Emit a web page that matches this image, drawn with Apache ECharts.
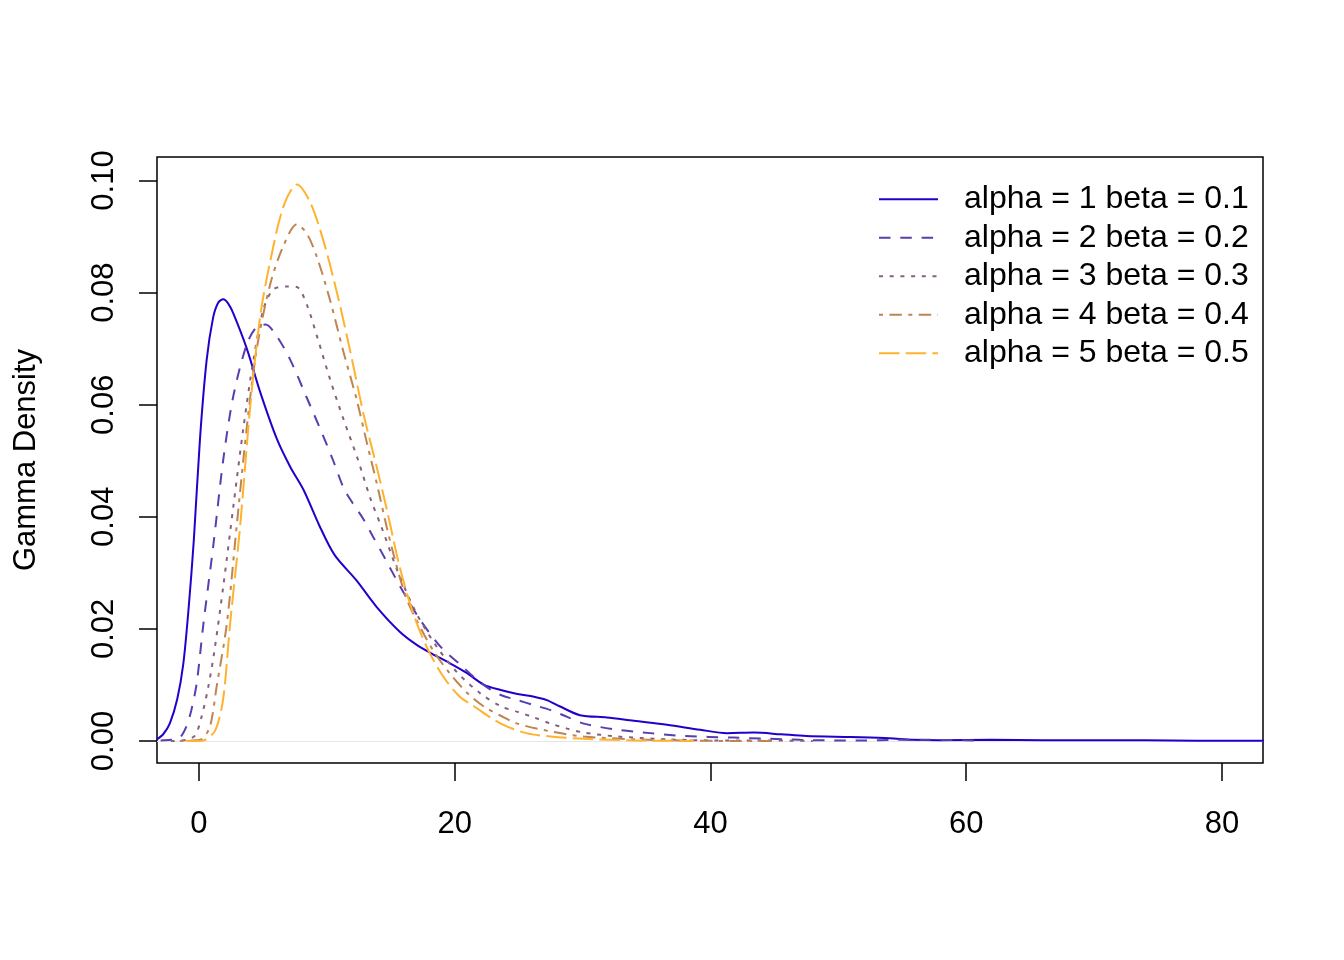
<!DOCTYPE html>
<html>
<head>
<meta charset="utf-8">
<script src="https://cdn.jsdelivr.net/npm/echarts@6/dist/echarts.min.js"></script>
<style>
html,body{margin:0;padding:0;background:#fff;}
#chart{width:1344px;height:960px;}
</style>
</head>
<body>
<div id="chart"></div>
<script>
// ---- data ----
const seriesNames = [
  'alpha = 1 beta = 0.1',
  'alpha = 2 beta = 0.2',
  'alpha = 3 beta = 0.3',
  'alpha = 4 beta = 0.4',
  'alpha = 5 beta = 0.5'
];
const xTicks = [0, 20, 40, 60, 80];
const yTicks = [0, 0.02, 0.04, 0.06, 0.08, 0.10];

const s1 = [[-3.3,0.0003],[-2.8,0.0012],[-2.27,0.0032],[-1.7,0.0075],[-1.23,0.0137],[-0.8,0.024],[-0.4,0.036],[0.08,0.054],[0.6,0.068],[1.1,0.0755],[1.5,0.0782],[1.9,0.0788],[2.3,0.078],[2.7,0.0762],[3.74,0.070],[4.78,0.0623],[6.09,0.0539],[7.14,0.0489],[8.2,0.0447],[9.4,0.0385],[10.6,0.0332],[12.3,0.0287],[13.9,0.0239],[15.7,0.0195],[17.0,0.0172],[18.2,0.0156],[19.6,0.0139],[20.9,0.0122],[22.3,0.0100],[23.6,0.0091],[24.9,0.0084],[26.2,0.0079],[27.2,0.0073],[28.2,0.0062],[29.8,0.0046],[31.9,0.0042],[34.0,0.0036],[36.6,0.0029],[39.2,0.0020],[41.3,0.0014],[43.4,0.0015],[45.5,0.0012],[47.5,0.0009],[51.0,0.0007],[54.0,0.0005],[55.8,0.0002],[58.0,0.00015],[62.0,0.0002],[66.0,0.00015],[70.0,0.00015],[74.0,0.00012],[78.0,0.00005],[83.3,0.00005]];
const s2 = [[-3.0,0.0001],[-2.2,0.0002],[-1.5,0.0006],[-1.0,0.0025],[-0.6,0.0055],[-0.18,0.0103],[0.34,0.0208],[1.12,0.0349],[1.91,0.0504],[2.69,0.0616],[3.74,0.0708],[4.52,0.0739],[5.2,0.0743],[6.09,0.0722],[7.14,0.068],[8.44,0.0612],[9.7,0.0545],[10.5,0.050],[11.3,0.0452],[12.0,0.0425],[12.8,0.0398],[13.6,0.0365],[14.4,0.0332],[15.7,0.0277],[17.3,0.0216],[18.9,0.0168],[20.5,0.0135],[21.5,0.0114],[22.5,0.0096],[23.6,0.0082],[24.9,0.0073],[26.2,0.0064],[27.5,0.0055],[28.8,0.0043],[30.1,0.0031],[32.7,0.0020],[35.3,0.0014],[37.9,0.0009],[41.8,0.0006],[44.4,0.0004],[47.0,0.0002],[49.6,0.0001],[52.0,0.0001],[54.5,0.0002],[57.0,0.0002],[60.6,0.0001]];
const s3 = [[-2.2,0.0],[-1.0,0.0002],[-0.3,0.001],[0.2,0.0043],[0.73,0.0097],[1.2,0.016],[1.91,0.0278],[2.69,0.0419],[3.48,0.056],[4.26,0.068],[5.05,0.0771],[5.83,0.0806],[6.88,0.0811],[7.66,0.081],[8.44,0.0778],[9.23,0.0722],[10.27,0.0644],[11.3,0.0574],[12.4,0.0504],[13.4,0.0433],[14.3,0.038],[15.5,0.0305],[17.0,0.0228],[18.6,0.0168],[20.2,0.0122],[22.0,0.0085],[23.6,0.0062],[24.9,0.0052],[26.2,0.0042],[27.5,0.0031],[28.8,0.0022],[30.1,0.0015],[32.7,0.0008],[36.6,0.0003],[40.0,0.0001],[44.0,0.0001],[48.0,0.0]];
const s4 = [[-1.5,0.0],[-0.5,0.0001],[0.2,0.0003],[0.86,0.0026],[1.38,0.0097],[2.17,0.0208],[2.95,0.0384],[3.74,0.056],[4.52,0.070],[5.57,0.0815],[6.61,0.0884],[7.66,0.0922],[8.44,0.0905],[9.23,0.0863],[10.27,0.0785],[11.3,0.0694],[12.3,0.0612],[13.15,0.053],[13.9,0.046],[14.7,0.038],[15.6,0.030],[16.3,0.025],[17.0,0.0216],[18.3,0.0162],[19.6,0.0121],[21.0,0.0085],[22.3,0.0061],[23.6,0.0045],[24.9,0.0031],[27.5,0.0017],[30.1,0.0008],[34.0,0.0003],[37.9,0.0001],[42.0,0.0],[45.0,0.0]];
const s5 = [[-1.0,0.0],[0.0,0.0],[0.47,0.0002],[1.25,0.0018],[1.77,0.0059],[2.03,0.0102],[2.43,0.0208],[3.22,0.0384],[4.0,0.0595],[4.78,0.0757],[5.57,0.0856],[6.61,0.0954],[7.66,0.0993],[8.7,0.0961],[9.75,0.0891],[10.8,0.0799],[11.84,0.0694],[12.9,0.058],[13.9,0.0489],[14.7,0.0412],[15.7,0.031],[16.75,0.0228],[17.8,0.0168],[19.1,0.0115],[20.4,0.0079],[21.5,0.0062],[23.6,0.0031],[25.6,0.0014],[27.5,0.0008],[30.1,0.0004],[34.0,0.0001],[38.7,0.0]];

const seriesData = [s1, s2, s3, s4, s5];
const colors = ['#2200CC', '#5A3DB0', '#86607F', '#BE8552', '#FFB22E'];
const dashes = ['solid', [11.5, 9.8], [4, 6.7], [4, 6.4, 12.5, 6.4], [20.5, 6.2]];

const FONT = 'Liberation Sans, Arial, sans-serif';
const chart = echarts.init(document.getElementById('chart'), null, {renderer: 'canvas'});

const series = seriesData.map((d, i) => ({
  name: seriesNames[i],
  type: 'line',
  data: d,
  showSymbol: false,
  symbol: 'none',
  smooth: 0.3,
  clip: true,
  z: 3 + i,
  lineStyle: {color: colors[i], width: 2, type: dashes[i]},
  itemStyle: {color: colors[i]},
  markLine: i === 0 ? {
    silent: true,
    symbol: ['none', 'none'],
    label: {show: false},
    lineStyle: {color: '#e6e6e6', width: 1, type: 'solid'},
    data: [{yAxis: 0}],
    z: 1
  } : undefined
}));

chart.setOption({
  animation: false,
  backgroundColor: '#fff',
  grid: {left: 157, right: 81, top: 157, bottom: 197, show: true, borderColor: '#000', borderWidth: 1.5, backgroundColor: 'transparent'},
  legend: {
    orient: 'vertical',
    left: 878,
    top: 180,
    padding: 0,
    itemGap: 0,
    itemWidth: 59,
    itemHeight: 14,
    data: seriesNames,
    itemStyle: {opacity: 0},
    textStyle: {fontFamily: FONT, fontSize: 32, color: '#000', lineHeight: 38.5, padding: [0, 0, 0, 21]}
  },
  xAxis: {
    type: 'value',
    min: -3.284,
    max: 83.21,
    splitLine: {show: false},
    axisLine: {show: false, onZero: false},
    axisTick: {show: true, customValues: xTicks, length: 18, lineStyle: {color: '#000', width: 1.5}},
    axisLabel: {customValues: xTicks, margin: 46, fontFamily: FONT, fontSize: 31, color: '#000'}
  },
  yAxis: {
    type: 'value',
    min: -0.00393,
    max: 0.1042,
    name: 'Gamma Density',
    nameLocation: 'middle',
    nameRotate: 90,
    nameGap: 115,
    nameTextStyle: {fontFamily: FONT, fontSize: 31, color: '#000'},
    splitLine: {show: false},
    axisLine: {show: false, onZero: false},
    axisTick: {show: true, customValues: yTicks, length: 18, lineStyle: {color: '#000', width: 1.5}},
    axisLabel: {customValues: yTicks, rotate: 90, margin: 37, fontFamily: FONT, fontSize: 31, color: '#000',
      formatter: v => v.toFixed(2)}
  },
  series: series
});
</script>
</body>
</html>
